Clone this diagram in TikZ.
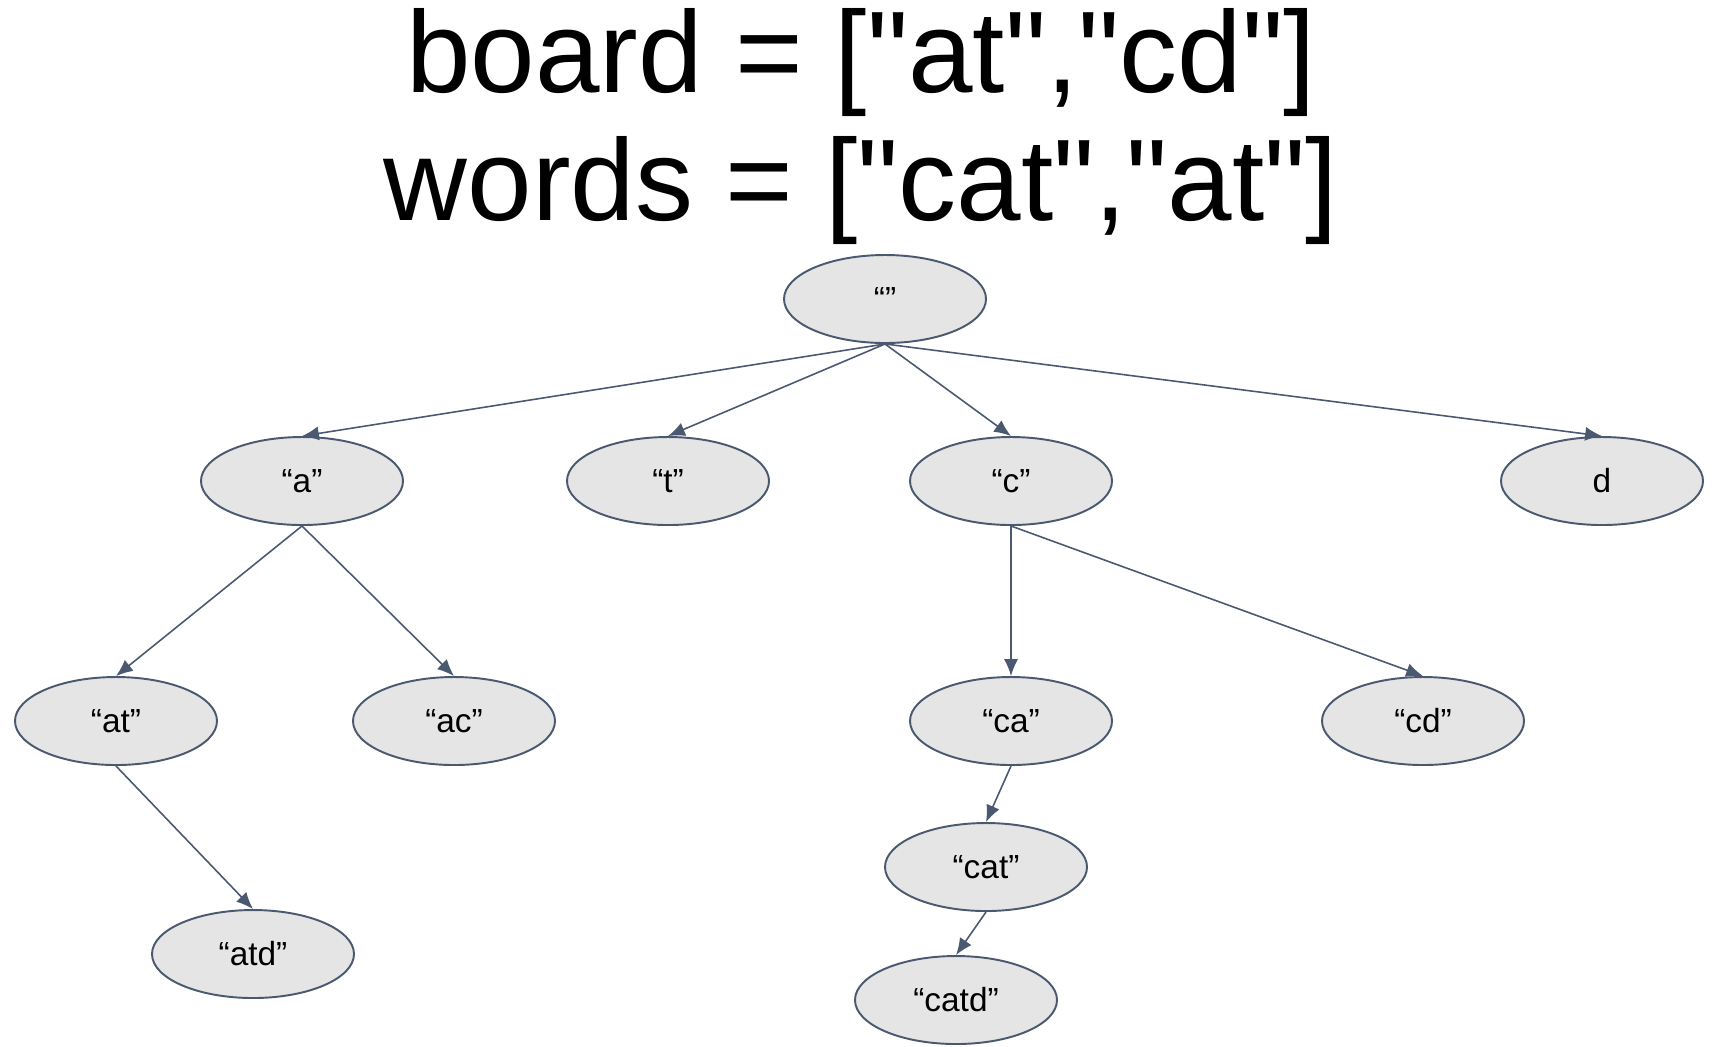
\documentclass[tikz,border=0pt]{standalone}
\usepackage{fontspec}
\setmainfont{Liberation Sans}[Ligatures=TeXOff]
\usetikzlibrary{shapes.geometric,arrows.meta}
\definecolor{edgeblue}{RGB}{74,88,112}
\definecolor{nodegray}{RGB}{229,229,229}
\tikzset{
  trie/.style={ellipse, draw=edgeblue, line width=0.55pt, fill=nodegray,
    minimum width=20.2mm, minimum height=8.8mm, inner sep=0pt,
    font=\fontsize{9.5}{11}\selectfont},
  link/.style={-{Latex[length=4.8pt,width=4pt]}, draw=edgeblue, line width=0.45pt},
  headline/.style={anchor=base, font=\fontsize{33}{38}\selectfont}
}
\begin{document}
\begin{tikzpicture}[x=0.1mm,y=-0.1mm]
        \useasboundingbox (0,0) rectangle (1714,1046);
        \node[headline] (board) at (861,92) {board = ["at","cd"]};
        \node[headline] (words) at (861,220) {words = ["cat","at"]};
        \node[trie] (root) at (885,299) {“”};
        \node[trie] (a) at (302,481) {“a”};
        \node[trie] (t) at (668,481) {“t”};
        \node[trie] (c) at (1011,481) {“c”};
        \node[trie] (d) at (1602,481) {d};
        \node[trie] (at) at (116,721) {“at”};
        \node[trie] (ac) at (454,721) {“ac”};
        \node[trie] (ca) at (1011,721) {“ca”};
        \node[trie] (cd) at (1423,721) {“cd”};
        \node[trie] (cat) at (986,867) {“cat”};
        \node[trie] (atd) at (253,954) {“atd”};
        \node[trie] (catd) at (956,1000) {“catd”};
        % \draw[step=100,gray,very thin] (0,0) grid (1714,1046);
        \draw[link] (root.south) -- (a.north);
        \draw[link] (root.south) -- (t.north);
        \draw[link] (root.south) -- (c.north);
        \draw[link] (root.south) -- (d.north);
        \draw[link] (a.south) -- (at.north);
        \draw[link] (a.south) -- (ac.north);
        \draw[link] (at.south) -- (atd.north);
        \draw[link] (c.south) -- (ca.north);
        \draw[link] (c.south) -- (cd.north);
        \draw[link] (ca.south) -- (cat.north);
        \draw[link] (cat.south) -- (catd.north);
      \end{tikzpicture}
\end{document}
